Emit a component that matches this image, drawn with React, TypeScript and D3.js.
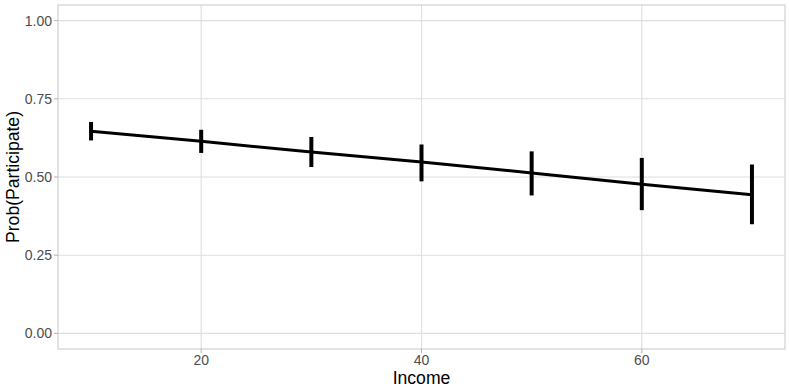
import React from "react";
import * as d3 from "d3";

const incomes = [10, 20, 30, 40, 50, 60, 70];
const probs = [0.646, 0.614, 0.58, 0.548, 0.513, 0.477, 0.443];
const lowers = [0.617, 0.577, 0.532, 0.486, 0.441, 0.394, 0.349];
const uppers = [0.676, 0.651, 0.628, 0.604, 0.582, 0.561, 0.54];
const xTicks = [20, 40, 60];
const yTicks = [0, 0.25, 0.5, 0.75, 1.0];

const W = 789;
const H = 392;
const M = { left: 58, right: 4, top: 5, bottom: 43 };

export default function App() {
  const x = d3
    .scaleLinear()
    .domain([7, 73])
    .range([M.left, W - M.right]);
  const y = d3
    .scaleLinear()
    .domain([-0.05, 1.05])
    .range([H - M.bottom, M.top]);
  const line = d3
    .line<number>()
    .x((d, i) => x(incomes[i]))
    .y((d) => y(d));
  const font = "'Liberation Sans', Arial, Helvetica, sans-serif";
  const px0 = M.left,
    px1 = W - M.right,
    py0 = M.top,
    py1 = H - M.bottom;
  return (
    <svg
      width={W}
      height={H}
      style={{ position: "absolute", left: 0, top: 0, display: "block" }}
      fontFamily={font}
    >
      <rect x={0} y={0} width={W} height={H} fill="#fff" />
      {/* major grid */}
      {xTicks.map((v) => (
        <line key={"xM" + v} x1={x(v)} x2={x(v)} y1={py0} y2={py1} stroke="#dedede" strokeWidth={1.1} />
      ))}
      {yTicks.map((v) => (
        <line key={"yM" + v} x1={px0} x2={px1} y1={y(v)} y2={y(v)} stroke="#dedede" strokeWidth={1.1} />
      ))}
      {/* data line */}
      <path d={line(probs) || ""} fill="none" stroke="#000" strokeWidth={3} />
      {/* error bars */}
      {incomes.map((v, i) => (
        <line
          key={"e" + v}
          x1={x(v)}
          x2={x(v)}
          y1={y(lowers[i])}
          y2={y(uppers[i])}
          stroke="#000"
          strokeWidth={4}
        />
      ))}
      {/* panel border */}
      <rect
        x={px0}
        y={py0}
        width={px1 - px0}
        height={py1 - py0}
        fill="none"
        stroke="#cccccc"
        strokeWidth={1.1}
      />
      {/* y ticks */}
      {yTicks.map((v) => (
        <g key={"yt" + v}>
          <line x1={px0 - 4} x2={px0} y1={y(v)} y2={y(v)} stroke="#b3b3b3" strokeWidth={1} />
          <text
            x={px0 - 6}
            y={y(v)}
            dy="0.35em"
            textAnchor="end"
            fontSize={14}
            fill="#4d4d4d"
          >
            {d3.format(".2f")(v)}
          </text>
        </g>
      ))}
      {/* x ticks */}
      {xTicks.map((v) => (
        <g key={"xt" + v}>
          <line x1={x(v)} x2={x(v)} y1={py1} y2={py1 + 4} stroke="#b3b3b3" strokeWidth={1} />
          <text x={x(v)} y={365} textAnchor="middle" fontSize={14} fill="#4d4d4d">
            {v}
          </text>
        </g>
      ))}
      {/* axis titles */}
      <text x={(px0 + px1) / 2} y={383.5} textAnchor="middle" fontSize={17.6} fill="#000">
        Income
      </text>
      <text
        transform={`translate(19, ${(py0 + py1) / 2}) rotate(-90)`}
        textAnchor="middle"
        fontSize={17.6}
        fill="#000"
      >
        Prob(Participate)
      </text>
    </svg>
  );
}
